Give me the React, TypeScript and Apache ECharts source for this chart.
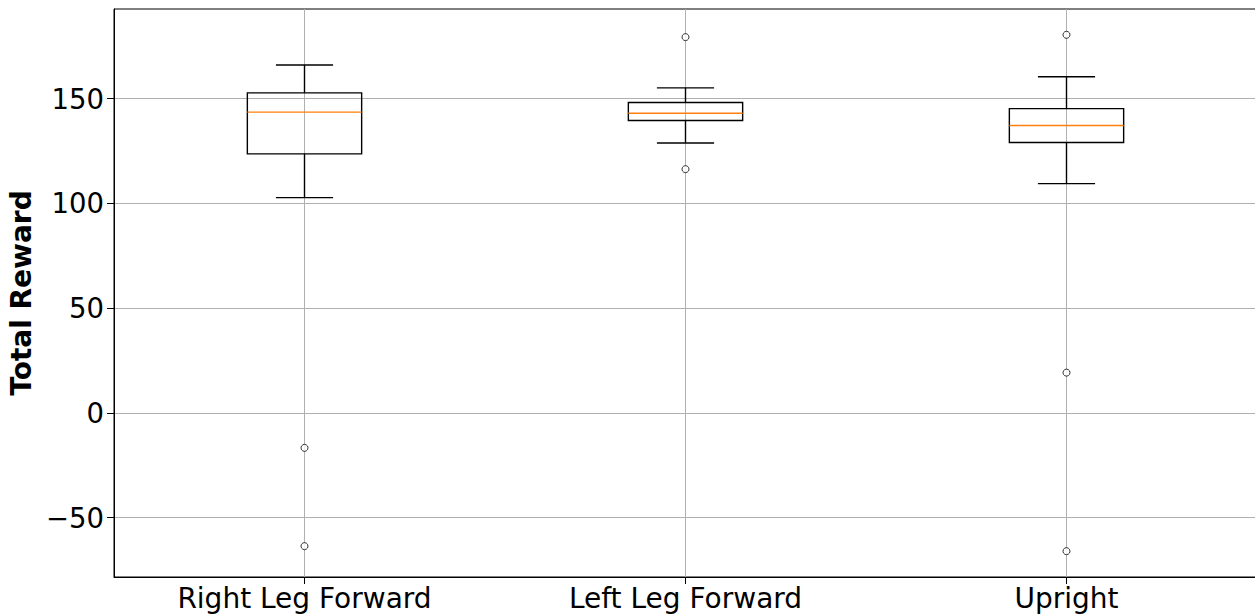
import React, { useEffect, useRef } from "react";
import * as echarts from "echarts";

// Box statistics per policy
const CATEGORIES = ["Right Leg Forward", "Left Leg Forward", "Upright"];
const WHISKER_LOW = [102.7, 128.8, 109.4];
const Q1 = [123.6, 139.5, 129.0];
const MEDIAN = [143.5, 143.0, 137.1];
const Q3 = [152.7, 148.1, 145.2];
const WHISKER_HIGH = [166.0, 155.1, 160.4];
const OUTLIERS = [
  [-16.7, -63.6],
  [179.3, 116.3],
  [180.4, 19.2, -66.0],
];
const Y_TICKS = [-50, 0, 50, 100, 150];

const FONT = "DejaVu Sans";
const GRID_COLOR = "#b0b0b0";

export default function App() {
  const ref = useRef<HTMLDivElement>(null);

  useEffect(() => {
    if (!ref.current) return;
    const chart = echarts.init(ref.current, null, { renderer: "svg" });

    const boxRows = CATEGORIES.map((_, i) => [
      i,
      WHISKER_LOW[i],
      Q1[i],
      MEDIAN[i],
      Q3[i],
      WHISKER_HIGH[i],
    ]);
    const outlierPoints: number[][] = [];
    OUTLIERS.forEach((vals, i) => vals.forEach((v) => outlierPoints.push([i, v])));

    // Axis range: data extent padded by 5% on each side
    const allVals = [...WHISKER_LOW, ...WHISKER_HIGH, ...OUTLIERS.flat()];
    const dMin = Math.min(...allVals);
    const dMax = Math.max(...allVals);
    const pad = (dMax - dMin) * 0.05;
    const yMin = dMin - pad;
    const yMax = dMax + pad;

    const lineW = 1.4;

    chart.setOption({
      animation: false,
      grid: {
        left: 114,
        width: 1143,
        top: 9,
        bottom: 37,
        outerBoundsMode: "none",
        containLabel: false,
        show: true,
        borderColor: "#000",
        borderWidth: 1,
        backgroundColor: "transparent",
      },
      xAxis: {
        type: "category",
        data: CATEGORIES,
        boundaryGap: true,
        axisLine: { show: true, onZero: false, lineStyle: { color: "#000", width: 1 } },
        axisTick: {
          show: true,
          alignWithLabel: true,
          length: 7,
          lineStyle: { color: "#000", width: 1 },
        },
        axisLabel: {
          fontSize: 28,
          fontFamily: FONT,
          color: "#000",
          margin: 7,
        },
        splitLine: { show: false },
      },
      yAxis: {
        type: "value",
        min: yMin,
        max: yMax,
        name: "Total Reward",
        nameLocation: "middle",
        nameRotate: 90,
        nameGap: 77,
        nameTextStyle: {
          fontSize: 28,
          fontWeight: "bold",
          fontFamily: FONT,
          color: "#000",
        },
        axisLine: { show: true, lineStyle: { color: "#000", width: 1 } },
        axisTick: {
          show: true,
          length: 7,
          customValues: Y_TICKS,
          lineStyle: { color: "#000", width: 1 },
        },
        axisLabel: {
          customValues: Y_TICKS,
          fontSize: 27.5,
          fontFamily: FONT,
          color: "#000",
          margin: 10,
          formatter: (v: number) => String(Math.round(v)).replace("-", "\u2212"),
        },
        splitLine: {
          show: true,
          lineStyle: { color: GRID_COLOR, width: 1 },
        },
      },
      series: [
        {
          // vertical grid lines at each category, kept beneath the boxes
          type: "line",
          data: [],
          z: 1,
          silent: true,
          markLine: {
            z: 1,
            silent: true,
            symbol: "none",
            label: { show: false },
            lineStyle: { color: GRID_COLOR, width: 1, type: "solid" },
            data: CATEGORIES.map((c) => ({ xAxis: c })),
          },
        },
        {
          type: "custom",
          z: 3,
          silent: true,
          data: boxRows,
          encode: { x: 0, y: [1, 2, 3, 4, 5] },
          renderItem: (_params: any, api: any) => {
            const i = api.value(0);
            const band = api.size([1, 0])[0];
            const boxHalf = band * 0.15;
            const capHalf = band * 0.075;
            const pLow = api.coord([i, api.value(1)]);
            const pQ1 = api.coord([i, api.value(2)]);
            const pMed = api.coord([i, api.value(3)]);
            const pQ3 = api.coord([i, api.value(4)]);
            const pHigh = api.coord([i, api.value(5)]);
            const cx = pLow[0];
            const black = { stroke: "#000", lineWidth: lineW, fill: null };
            return {
              type: "group",
              children: [
                {
                  type: "line",
                  shape: { x1: cx, y1: pQ1[1], x2: cx, y2: pLow[1] },
                  style: black,
                },
                {
                  type: "line",
                  shape: { x1: cx, y1: pQ3[1], x2: cx, y2: pHigh[1] },
                  style: black,
                },
                {
                  type: "line",
                  shape: { x1: cx - capHalf, y1: pLow[1], x2: cx + capHalf, y2: pLow[1] },
                  style: black,
                },
                {
                  type: "line",
                  shape: { x1: cx - capHalf, y1: pHigh[1], x2: cx + capHalf, y2: pHigh[1] },
                  style: black,
                },
                {
                  type: "rect",
                  shape: {
                    x: cx - boxHalf,
                    y: pQ3[1],
                    width: boxHalf * 2,
                    height: pQ1[1] - pQ3[1],
                  },
                  style: { stroke: "#000", lineWidth: lineW, fill: "none" },
                },
                {
                  type: "line",
                  shape: { x1: cx - boxHalf, y1: pMed[1], x2: cx + boxHalf, y2: pMed[1] },
                  style: { stroke: "#ff7f0e", lineWidth: lineW },
                },
              ],
            };
          },
        },
        {
          type: "scatter",
          z: 4,
          silent: true,
          data: outlierPoints,
          symbol: "circle",
          symbolSize: 7,
          itemStyle: { color: "#fff", borderColor: "#000", borderWidth: 1 },
        },
      ],
    });

    return () => chart.dispose();
  }, []);

  return (
    <div
      ref={ref}
      style={{ position: "absolute", left: 0, top: 0, width: 1255, height: 614 }}
    />
  );
}
